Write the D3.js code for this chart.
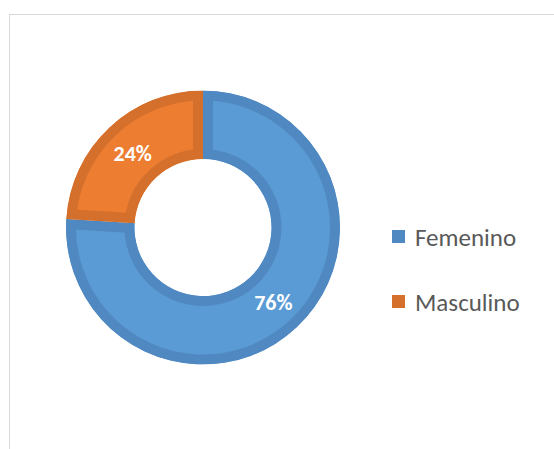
<!DOCTYPE html>
<html>
<head>
<meta charset="utf-8">
<script src="https://cdn.jsdelivr.net/npm/d3@7"></script>
<style>
  html, body { margin: 0; padding: 0; background: #fff; }
  svg { display: block; }
  .legend text { font-family: Carlito, Calibri, Lato, sans-serif; font-size: 25px; fill: #595959; }
  .pct { font-family: Carlito, Calibri, Lato, sans-serif; font-size: 22px; font-weight: bold; fill: #fff; }
</style>
</head>
<body>
<svg width="554" height="449"></svg>
<script>
var categories = ["Femenino", "Masculino"];
var values = [76, 24];
var labels = ["76%", "24%"];

var fills = ["#5B9BD5", "#ED7D31"];
var borders = ["#5089C2", "#D5702C"];

var svg = d3.select("svg");

// chart frame (runs off the right and bottom edges)
svg.append("rect")
    .attr("x", 9.5)
    .attr("y", 14.5)
    .attr("width", 700)
    .attr("height", 600)
    .attr("fill", "none")
    .attr("stroke", "#D9D9D9")
    .attr("stroke-width", 1);

var cx = 203, cy = 227.5;
var outer = 137, inner = 68.5;

var pie = d3.pie().sort(null).value(function(d) { return d; });
var arc = d3.arc().innerRadius(inner).outerRadius(outer);
var arcs = pie(values);

var g = svg.append("g").attr("transform", "translate(" + cx + "," + cy + ")");
var defs = svg.append("defs");

defs.selectAll("clipPath")
    .data(arcs)
    .enter()
    .append("clipPath")
    .attr("id", function(d, i) { return "clip" + i; })
    .append("path")
    .attr("d", arc);

// slices with an inner border (stroke clipped to its own slice)
g.selectAll("path.slice")
    .data(arcs)
    .enter()
    .append("path")
    .attr("class", "slice")
    .attr("d", arc)
    .attr("fill", function(d, i) { return fills[i]; })
    .attr("stroke", function(d, i) { return borders[i]; })
    .attr("stroke-width", 20)
    .attr("stroke-linejoin", "miter")
    .attr("clip-path", function(d, i) { return "url(#clip" + i + ")"; });

g.selectAll("text.pct")
    .data(arcs)
    .enter()
    .append("text")
    .attr("class", "pct")
    .attr("text-anchor", "middle")
    .attr("x", function(d) { return arc.centroid(d)[0]; })
    .attr("y", function(d) { return arc.centroid(d)[1] + 8; })
    .text(function(d, i) { return labels[i]; });

// legend
var rowY = d3.scalePoint().domain(categories).range([236.5, 301.5]);
var legend = svg.append("g").attr("class", "legend");

legend.selectAll("rect")
    .data(categories)
    .enter()
    .append("rect")
    .attr("x", 392)
    .attr("y", function(d) { return rowY(d) - 6.5; })
    .attr("width", 13)
    .attr("height", 13)
    .attr("fill", function(d, i) { return borders[i]; });

legend.selectAll("text")
    .data(categories)
    .enter()
    .append("text")
    .attr("x", 415)
    .attr("y", function(d) { return rowY(d) + 9; })
    .text(function(d) { return d; });
</script>
</body>
</html>
